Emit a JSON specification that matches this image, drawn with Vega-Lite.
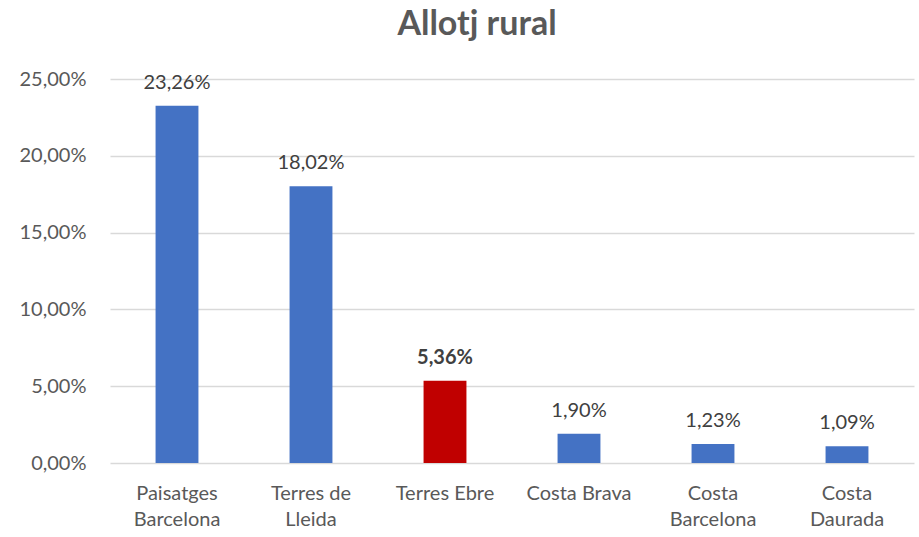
{
  "$schema": "https://vega.github.io/schema/vega-lite/v6.json",
  "width": 804,
  "height": 384,
  "autosize": "none",
  "padding": {"left": 110, "top": 79, "right": 5, "bottom": 74},
  "background": "white",
  "title": {"text": "Allotj rural", "fontSize": 34, "font": "Lato", "fontWeight": "bold", "color": "#595959", "offset": 27, "anchor": "middle", "dx": -35},
  "config": {
    "locale": {"number": {"decimal": ",", "thousands": ".", "grouping": [3], "currency": ["", " €"]}},
    "view": {"stroke": null},
    "font": "Lato"
  },
  "data": {"values": [
    {"zona": "Paisatges Barcelona", "valor": 0.2326, "destacat": false},
    {"zona": "Terres de Lleida", "valor": 0.1802, "destacat": false},
    {"zona": "Terres Ebre", "valor": 0.0536, "destacat": true},
    {"zona": "Costa Brava", "valor": 0.0190, "destacat": false},
    {"zona": "Costa Barcelona", "valor": 0.0123, "destacat": false},
    {"zona": "Costa Daurada", "valor": 0.0109, "destacat": false}
  ]},
  "encoding": {
    "x": {"field": "zona", "type": "nominal", "sort": null,
      "scale": {"paddingInner": 0.68, "paddingOuter": 0.34},
      "axis": {"title": null, "labelAngle": 0, "ticks": false, "domain": false,
        "labelFontSize": 20, "labelColor": "#595959", "labelPadding": 20, "labelLineHeight": 26,
        "labelBaseline": "top",
        "labelExpr": "datum.value == 'Paisatges Barcelona' ? ['Paisatges', 'Barcelona'] : datum.value == 'Terres de Lleida' ? ['Terres de', 'Lleida'] : datum.value == 'Costa Barcelona' ? ['Costa', 'Barcelona'] : datum.value == 'Costa Daurada' ? ['Costa', 'Daurada'] : datum.value"}},
    "y": {"field": "valor", "type": "quantitative",
      "scale": {"domain": [0, 0.25], "nice": false},
      "axis": {"title": null, "format": ".2%", "values": [0, 0.05, 0.1, 0.15, 0.2, 0.25],
        "ticks": false, "domain": false, "labelFontSize": 20, "labelColor": "#595959", "labelPadding": 24,
        "gridColor": "#D9D9D9", "gridWidth": 1.5}}
  },
  "layer": [
    {"mark": {"type": "bar"},
      "encoding": {"color": {"field": "destacat", "type": "nominal", "scale": {"domain": [false, true], "range": ["#4472C4", "#C00000"]}, "legend": null}}},
    {"transform": [{"filter": "!datum.destacat"}],
      "mark": {"type": "text", "baseline": "alphabetic", "dy": -17, "fontSize": 20, "color": "#404040"},
      "encoding": {"text": {"field": "valor", "type": "quantitative", "format": ".2%"}}},
    {"transform": [{"filter": "datum.destacat"}],
      "mark": {"type": "text", "baseline": "alphabetic", "dy": -17, "fontSize": 20, "fontWeight": "bold", "color": "#404040"},
      "encoding": {"text": {"field": "valor", "type": "quantitative", "format": ".2%"}}}
  ]
}
